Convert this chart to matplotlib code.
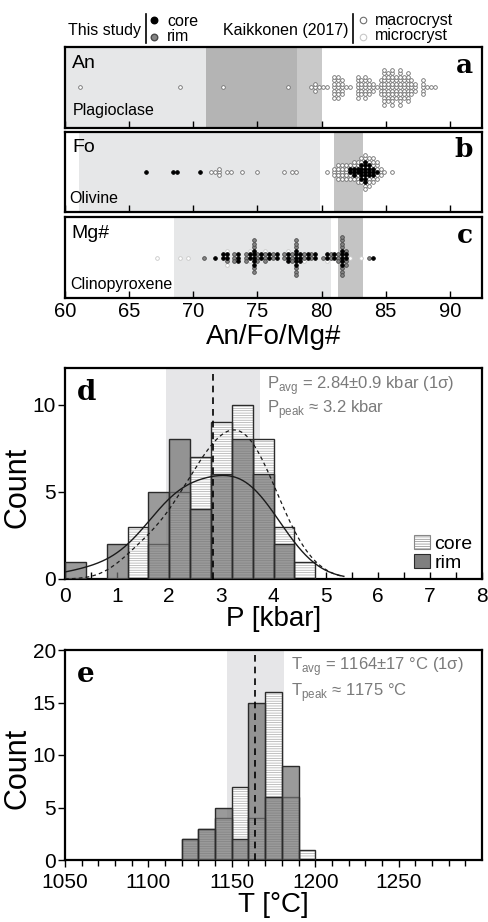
import numpy as np
import matplotlib
matplotlib.use("Agg")
import matplotlib.pyplot as plt
from matplotlib.patches import Patch

plt.rcParams['font.family'] = ['Liberation Sans', 'DejaVu Sans']
plt.rcParams['mathtext.fontset'] = 'custom'
plt.rcParams['mathtext.rm'] = 'Liberation Sans'
plt.rcParams['hatch.linewidth'] = 0.5

# ---- panel a: plagioclase An (Kaikkonen 2017 macrocrysts), column value / count
an_macro_x = [61.2, 69.0, 72.2, 77.5, 79.2, 79.5, 79.8, 80.1, 80.4, 81.0, 81.3, 81.6,
              82.0, 82.3, 82.8, 83.1, 83.4, 83.7, 84.0, 84.3, 84.6, 84.9, 85.2, 85.5,
              85.8, 86.1, 86.4, 86.7, 87.0, 87.3, 87.9, 88.2, 88.5, 88.8]
an_macro_n = [1, 1, 1, 1, 1, 3, 1, 1, 1, 7, 7, 5,
              1, 1, 7, 5, 7, 5, 3, 1, 5, 11, 9, 11,
              7, 11, 7, 9, 5, 3, 5, 1, 1, 1]

# ---- panel b: olivine Fo
fo_core_x = [66.3, 68.3, 68.6, 70.4, 82.2, 82.5, 82.8, 83.1, 83.4, 83.7, 84.0, 84.3]
fo_core_n = [1, 1, 1, 1, 2, 3, 2, 5, 7, 4, 3, 1]
fo_macro_x = [71.4, 71.8, 72.1, 72.5, 72.9, 73.9, 75.0, 77.2, 77.7, 78.0, 80.4,
              81.0, 81.3, 81.6, 81.9, 82.2, 82.5, 82.8, 83.1, 83.4, 83.7, 84.0,
              84.3, 84.6, 84.9, 85.5]
fo_macro_n = [1, 1, 3, 1, 1, 1, 1, 1, 1, 1, 1,
              3, 5, 5, 5, 3, 3, 5, 3, 4, 5, 5,
              5, 3, 1, 1]

# ---- panel c: clinopyroxene Mg#
mg_micro_x = [67.2, 69.1, 69.6, 72.7, 74.5, 75.6, 77.3, 78.5, 80.5, 82.2, 83.0]
mg_micro_n = [1, 1, 1, 2, 2, 1, 1, 1, 1, 1, 1]
mg_rim_x = [70.8, 72.5, 73.3, 74.0, 74.6, 75.0, 75.6, 76.3, 77.0, 77.6, 77.9,
            78.6, 79.3, 80.0, 80.6, 81.3, 81.6, 81.9, 83.6]
mg_rim_n = [1, 1, 3, 3, 5, 3, 3, 2, 2, 3, 6,
            2, 2, 1, 2, 3, 7, 3, 1]
mg_core_x = [71.6, 72.3, 72.7, 73.5, 74.3, 74.8, 75.3, 76.0, 76.6, 77.3, 77.9,
             78.3, 79.0, 79.6, 80.3, 81.0, 81.6, 82.0, 84.0]
mg_core_n = [1, 2, 2, 3, 2, 5, 2, 2, 2, 3, 5,
             3, 2, 2, 2, 2, 5, 2, 1]

# ---- panel d: pressure histogram (bin width 0.4 kbar)
p_edges = [0.0, 0.4, 0.8, 1.2, 1.6, 2.0, 2.4, 2.8, 3.2, 3.6, 4.0, 4.4, 4.8]
p_core = [0, 0, 0, 3, 2, 5, 7, 9, 10, 8, 3, 1]
p_rim = [1, 0, 2, 0, 5, 8, 4, 6, 8, 6, 2, 0]
p_avg, p_sd = 2.84, 0.9

# ---- panel e: temperature histogram (bin width 10 C)
t_edges = [1120, 1130, 1140, 1150, 1160, 1170, 1180, 1190, 1200]
t_core = [2, 3, 4, 7, 4, 16, 6, 1]
t_rim = [2, 3, 5, 2, 15, 6, 9, 0]
t_avg, t_sd = 1164, 17

W, H = 488, 922
STYLES = {
    'core': dict(facecolor='black', edgecolor='black'),
    'rim': dict(facecolor='#858585', edgecolor='#4a4a4a'),
    'macro': dict(facecolor='white', edgecolor='#6e6e6e'),
    'micro': dict(facecolor='white', edgecolor='#c8c8c8'),
}
TXT_GRAY = '#7a7a7a'


def box(top, bottom, left=65, right=482):
    return [left / W, 1 - bottom / H, (right - left) / W, (bottom - top) / H]


def swarm(ax, groups, step=0.3, dy=3.5):
    columns = {}
    for values, counts, style in groups:
        for v, n in zip(values, counts):
            columns.setdefault(int(round(v / step)), []).extend([style] * n)
    pts = {}
    for key, styles in columns.items():
        for i, st in enumerate(styles):
            k = (i + 1) // 2
            sign = 1 if i % 2 else -1
            pts.setdefault(st, []).append((key * step, sign * k * dy))
    for st in ['micro', 'macro', 'rim', 'core']:
        if st in pts:
            xy = np.array(pts[st])
            ax.scatter(xy[:, 0], xy[:, 1], s=7, linewidths=0.6, zorder=3, **STYLES[st])


def mineral_panel(ax, spans, groups, name, mineral, letter, ys, labels=False):
    for lo, hi, col in spans:
        ax.axvspan(lo, hi, color=col, lw=0, zorder=0)
    swarm(ax, groups)
    ax.set_xlim(60, 92.5)
    ax.set_ylim(-40.5, 40.5)
    ax.set_yticks([])
    ax.set_xticks(np.arange(60, 95, 5))
    ax.tick_params(axis='x', direction='in', length=5, width=1, labelsize=14.5,
                   labelbottom=labels, pad=3)
    for s in ax.spines.values():
        s.set_linewidth(1.6)
    ax.text(ys[0], ys[1], name, transform=ax.transAxes, fontsize=14, va='baseline')
    ax.text(ys[2], ys[3], mineral, transform=ax.transAxes, fontsize=11.5, va='baseline')
    ax.text(0.978, ys[4], letter, transform=ax.transAxes, fontsize=19, ha='right',
            va='baseline', family='DejaVu Serif', weight='bold')


def kde_counts(x, centers, counts, bw, binw):
    out = np.zeros_like(x)
    for c, n in zip(centers, counts):
        out += n * np.exp(-0.5 * ((x - c) / bw) ** 2)
    return out * binw / (bw * np.sqrt(2 * np.pi))


def hist_panel(ax, edges, core, rim):
    edges = np.asarray(edges, float)
    w = edges[1] - edges[0]
    ax.bar(edges[:-1], core, width=w, align='edge', facecolor='white',
           edgecolor='#a8a8a8', hatch='-------', lw=0, zorder=2)
    ax.bar(edges[:-1], core, width=w, align='edge', fill=False,
           edgecolor='#2b2b2b', lw=1.0, zorder=3)
    ax.bar(edges[:-1], rim, width=w, align='edge', facecolor=(0.45, 0.45, 0.45, 0.72),
           edgecolor='#2b2b2b', lw=1.0, zorder=4)
    for s in ax.spines.values():
        s.set_linewidth(1.6)


fig = plt.figure(figsize=(W / 100, H / 100), dpi=100)

# ---- a
ax_a = fig.add_axes(box(47, 128))
mineral_panel(ax_a, [(60, 80.0, '#e6e7e8'), (71.0, 78.1, '#b4b4b4'), (78.1, 80.0, '#c9c9c9')],
              [(an_macro_x, an_macro_n, 'macro')], 'An', 'Plagioclase', 'a',
              (0.016, 0.74, 0.018, 0.16, 0.68))
# ---- b
ax_b = fig.add_axes(box(132, 212))
mineral_panel(ax_b, [(61.1, 79.9, '#e6e7e8'), (81.0, 83.2, '#c4c4c4')],
              [(fo_core_x, fo_core_n, 'core'), (fo_macro_x, fo_macro_n, 'macro')],
              'Fo', 'Olivine', 'b', (0.018, 0.75, 0.010, 0.11, 0.69))
# ---- c
ax_c = fig.add_axes(box(217, 298))
mineral_panel(ax_c, [(68.5, 80.7, '#e6e7e8'), (81.3, 83.2, '#c4c4c4')],
              [(mg_core_x, mg_core_n, 'core'), (mg_rim_x, mg_rim_n, 'rim'),
               (mg_micro_x, mg_micro_n, 'micro')],
              'Mg#', 'Clinopyroxene', 'c', (0.016, 0.74, 0.012, 0.11, 0.68), labels=True)
ax_c.set_xlabel('An/Fo/Mg#', fontsize=20, labelpad=2)

# ---- d
ax_d = fig.add_axes(box(368, 579))
ax_d.axvspan(p_avg - p_sd, p_avg + p_sd, color='#e6e6e8', lw=0, zorder=0)
hist_panel(ax_d, p_edges, p_core, p_rim)
pe = np.asarray(p_edges)
pc = (pe[:-1] + pe[1:]) / 2
xs = np.linspace(0, 5.35, 300)
ax_d.plot(xs, kde_counts(xs, pc, p_rim, 0.6, 0.4), color='#1a1a1a', lw=1.0, zorder=5)
ax_d.plot(xs, kde_counts(xs, pc, p_core, 0.45, 0.4), color='#1a1a1a', lw=0.9,
          ls=(0, (3, 2.5)), zorder=5)
ax_d.axvline(p_avg, color='black', lw=1.2, ls=(0, (4, 3)), zorder=6)
ax_d.set_xlim(0, 8)
ax_d.set_ylim(0, 12.1)
ax_d.set_xticks(range(0, 9))
ax_d.set_xticks(np.arange(0.5, 8, 1.0), minor=True)
ax_d.set_yticks([0, 5, 10])
ax_d.tick_params(axis='x', which='both', direction='in', length=5, width=1, labelsize=15,
                 pad=6)
ax_d.tick_params(axis='y', direction='out', length=5, width=1, labelsize=15, pad=1.5)
ax_d.set_xlabel('P [kbar]', fontsize=20, labelpad=0)
ax_d.set_ylabel('Count', fontsize=22)
ax_d.yaxis.set_label_coords(-0.078, 0.436)
ax_d.text(0.029, 0.85, 'd', transform=ax_d.transAxes, fontsize=20, va='baseline',
          family='DejaVu Serif', weight='bold')
ax_d.text(0.484, 0.90, r'P$_{\rm avg}$ = 2.84±0.9 kbar (1σ)', transform=ax_d.transAxes,
          fontsize=12, color=TXT_GRAY, va='baseline')
ax_d.text(0.484, 0.787, r'P$_{\rm peak}$ ≈ 3.2 kbar', transform=ax_d.transAxes,
          fontsize=12, color=TXT_GRAY, va='baseline')
handles = [Patch(facecolor='white', edgecolor='#888888', hatch='-------', lw=0.8),
           Patch(facecolor='#7f7f7f', edgecolor='#2b2b2b', lw=0.8)]
ax_d.legend(handles, ['core', 'rim'], loc='lower right', bbox_to_anchor=(1.01, -0.03),
            frameon=False, fontsize=14, handlelength=0.8, handleheight=0.75,
            handletextpad=0.25, labelspacing=0.05, borderpad=0.2)

# ---- e
ax_e = fig.add_axes(box(650, 860))
ax_e.axvspan(t_avg - t_sd, t_avg + t_sd, color='#e6e6e8', lw=0, zorder=0)
hist_panel(ax_e, t_edges, t_core, t_rim)
ax_e.axvline(t_avg, color='black', lw=1.2, ls=(0, (4, 3)), zorder=6)
ax_e.set_xlim(1050, 1300)
ax_e.set_ylim(0, 20)
ax_e.set_xticks(range(1050, 1300, 50))
ax_e.set_xticks(range(1060, 1300, 10), minor=True)
ax_e.set_yticks([0, 5, 10, 15, 20])
ax_e.tick_params(axis='x', which='major', direction='out', length=5, width=1, labelsize=15,
                 pad=4)
ax_e.tick_params(axis='x', which='minor', direction='out', length=4, width=1)
ax_e.tick_params(axis='y', direction='out', length=5, width=1, labelsize=15, pad=1.5)
ax_e.set_xlabel('T [°C]', fontsize=20, labelpad=0)
ax_e.set_ylabel('Count', fontsize=22)
ax_e.yaxis.set_label_coords(-0.078, 0.438)
ax_e.text(0.029, 0.848, 'e', transform=ax_e.transAxes, fontsize=20, va='baseline',
          family='DejaVu Serif', weight='bold')
ax_e.text(0.542, 0.905, r'T$_{\rm avg}$ = 1164±17 °C (1σ)', transform=ax_e.transAxes,
          fontsize=12, color=TXT_GRAY, va='baseline')
ax_e.text(0.542, 0.78, r'T$_{\rm peak}$ ≈ 1175 °C', transform=ax_e.transAxes,
          fontsize=12, color=TXT_GRAY, va='baseline')

# ---- top legend (pixel coordinates overlay)
top = fig.add_axes([0, 0, 1, 1], zorder=10)
top.set_xlim(0, W)
top.set_ylim(H, 0)
top.axis('off')
top.text(68, 35, 'This study', fontsize=11.5, va='baseline')
top.plot([146, 146], [14, 43], color='black', lw=1.2)
top.scatter([154], [20], s=22, **STYLES['core'])
top.scatter([154], [37], s=22, **STYLES['rim'])
top.text(167, 26, 'core', fontsize=11.5, va='baseline')
top.text(167, 41, 'rim', fontsize=11.5, va='baseline')
top.text(223, 35, 'Kaikkonen (2017)', fontsize=11.5, va='baseline')
top.plot([353, 353], [14, 43], color='black', lw=1.2)
top.scatter([363], [20], s=22, linewidths=0.8, **STYLES['macro'])
top.scatter([363], [37], s=22, linewidths=0.8, **STYLES['micro'])
top.text(375, 25, 'macrocryst', fontsize=11.5, va='baseline')
top.text(375, 40, 'microcryst', fontsize=11.5, va='baseline')

fig.savefig('out.png', dpi=100)
